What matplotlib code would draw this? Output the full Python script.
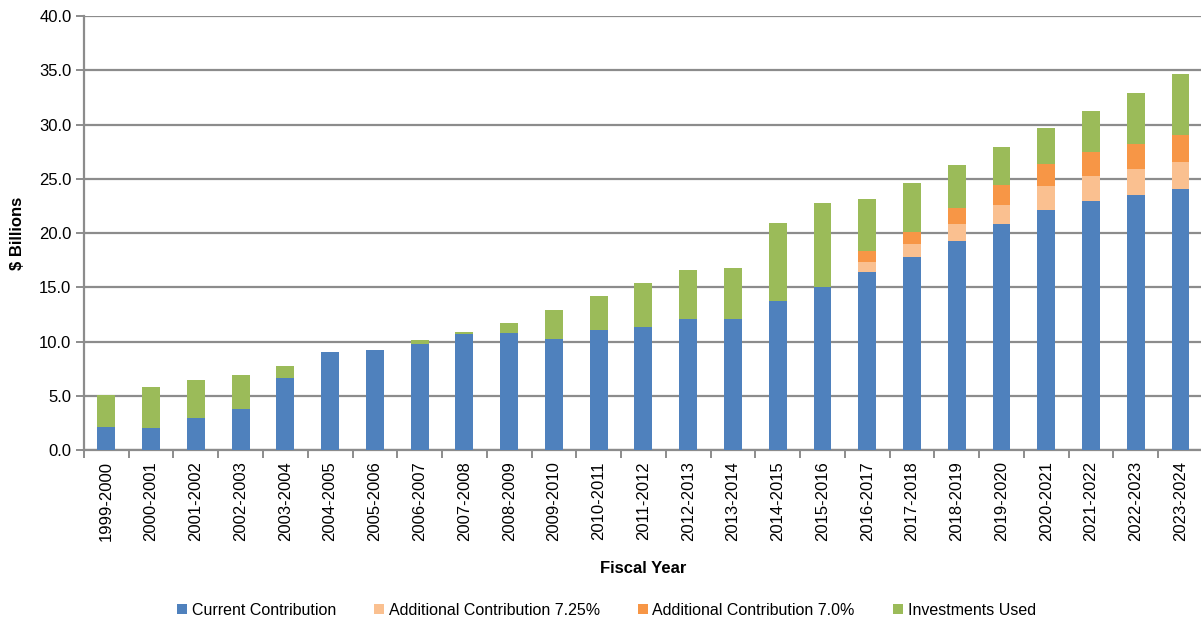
import matplotlib
matplotlib.use("Agg")
import matplotlib.pyplot as plt
import numpy as np

plt.rcParams['font.family'] = ['Liberation Sans', 'DejaVu Sans']

# fiscal years on the x axis
years = ["1999-2000", "2000-2001", "2001-2002", "2002-2003", "2003-2004",
         "2004-2005", "2005-2006", "2006-2007", "2007-2008", "2008-2009",
         "2009-2010", "2010-2011", "2011-2012", "2012-2013", "2013-2014",
         "2014-2015", "2015-2016", "2016-2017", "2017-2018", "2018-2019",
         "2019-2020", "2020-2021", "2021-2022", "2022-2023", "2023-2024"]

# $ billions
current = [2.15, 2.05, 2.95, 3.8, 6.6, 9.0, 9.25, 9.75, 10.7, 10.75,
           10.25, 11.05, 11.3, 12.05, 12.05, 13.7, 15.0, 16.4, 17.8, 19.3,
           20.8, 22.1, 22.95, 23.5, 24.1]
add_725 = [0, 0, 0, 0, 0, 0, 0, 0, 0, 0,
           0, 0, 0, 0, 0, 0, 0, 0.95, 1.2, 1.55,
           1.8, 2.25, 2.3, 2.4, 2.45]
add_70 = [0, 0, 0, 0, 0, 0, 0, 0, 0, 0,
          0, 0, 0, 0, 0, 0, 0, 1.0, 1.1, 1.45,
          1.85, 2.05, 2.25, 2.35, 2.45]
invest = [2.95, 3.8, 3.5, 3.15, 1.1, 0, 0, 0.4, 0.15, 0.95,
          2.7, 3.15, 4.05, 4.5, 4.75, 7.2, 7.8, 4.8, 4.55, 3.95,
          3.5, 3.25, 3.75, 4.7, 5.65]

labels = ["Current Contribution", "Additional Contribution 7.25%",
          "Additional Contribution 7.0%", "Investments Used"]
colors = ["#4F81BD", "#FAC090", "#F79646", "#9BBB59"]

fig = plt.figure(figsize=(12.01, 6.22), dpi=100)
ax = fig.add_axes([0.0699, 0.2765, 0.9317, 0.6977])

x = np.arange(len(years))
bottom = np.zeros(len(years))
for vals, lab, col in zip([current, add_725, add_70, invest], labels, colors):
    ax.bar(x, vals, width=0.4, bottom=bottom, color=col, label=lab, zorder=3)
    bottom += np.array(vals)

ax.set_xlim(-0.5, len(years) - 0.5)
ax.set_ylim(0, 40)
ax.set_yticks(np.arange(0, 41, 5))
ax.set_yticklabels([f"{v:.1f}" for v in np.arange(0, 41, 5)], fontsize=12)
ax.yaxis.grid(True, color="#8c8c8c", linewidth=1.6, zorder=0)
ax.tick_params(axis="y", length=6, color="#8c8c8c", width=1.4, pad=3)

ax.set_xticks(x)
ax.set_xticklabels(years, rotation=90, fontsize=12)
ax.set_xticks(np.arange(-0.5, len(years), 1), minor=True)
ax.tick_params(axis="x", which="major", length=0, pad=8)
ax.tick_params(axis="x", which="minor", length=6, color="#8c8c8c", width=1.4)

for s in ["top", "right"]:
    ax.spines[s].set_visible(False)
for s in ["left", "bottom"]:
    ax.spines[s].set_color("#8c8c8c")
    ax.spines[s].set_linewidth(1.6)

ax.set_ylabel("$ Billions", fontsize=12, fontweight="bold", labelpad=10)
ax.set_xlabel("Fiscal Year", fontsize=12, fontweight="bold", labelpad=14)

fig.legend(loc="center", bbox_to_anchor=(0.505, 0.019), ncol=4, frameon=False,
           fontsize=11.5, handlelength=0.6, handleheight=0.6,
           handletextpad=0.3, columnspacing=2.4)

fig.savefig("out.png", dpi=100)
